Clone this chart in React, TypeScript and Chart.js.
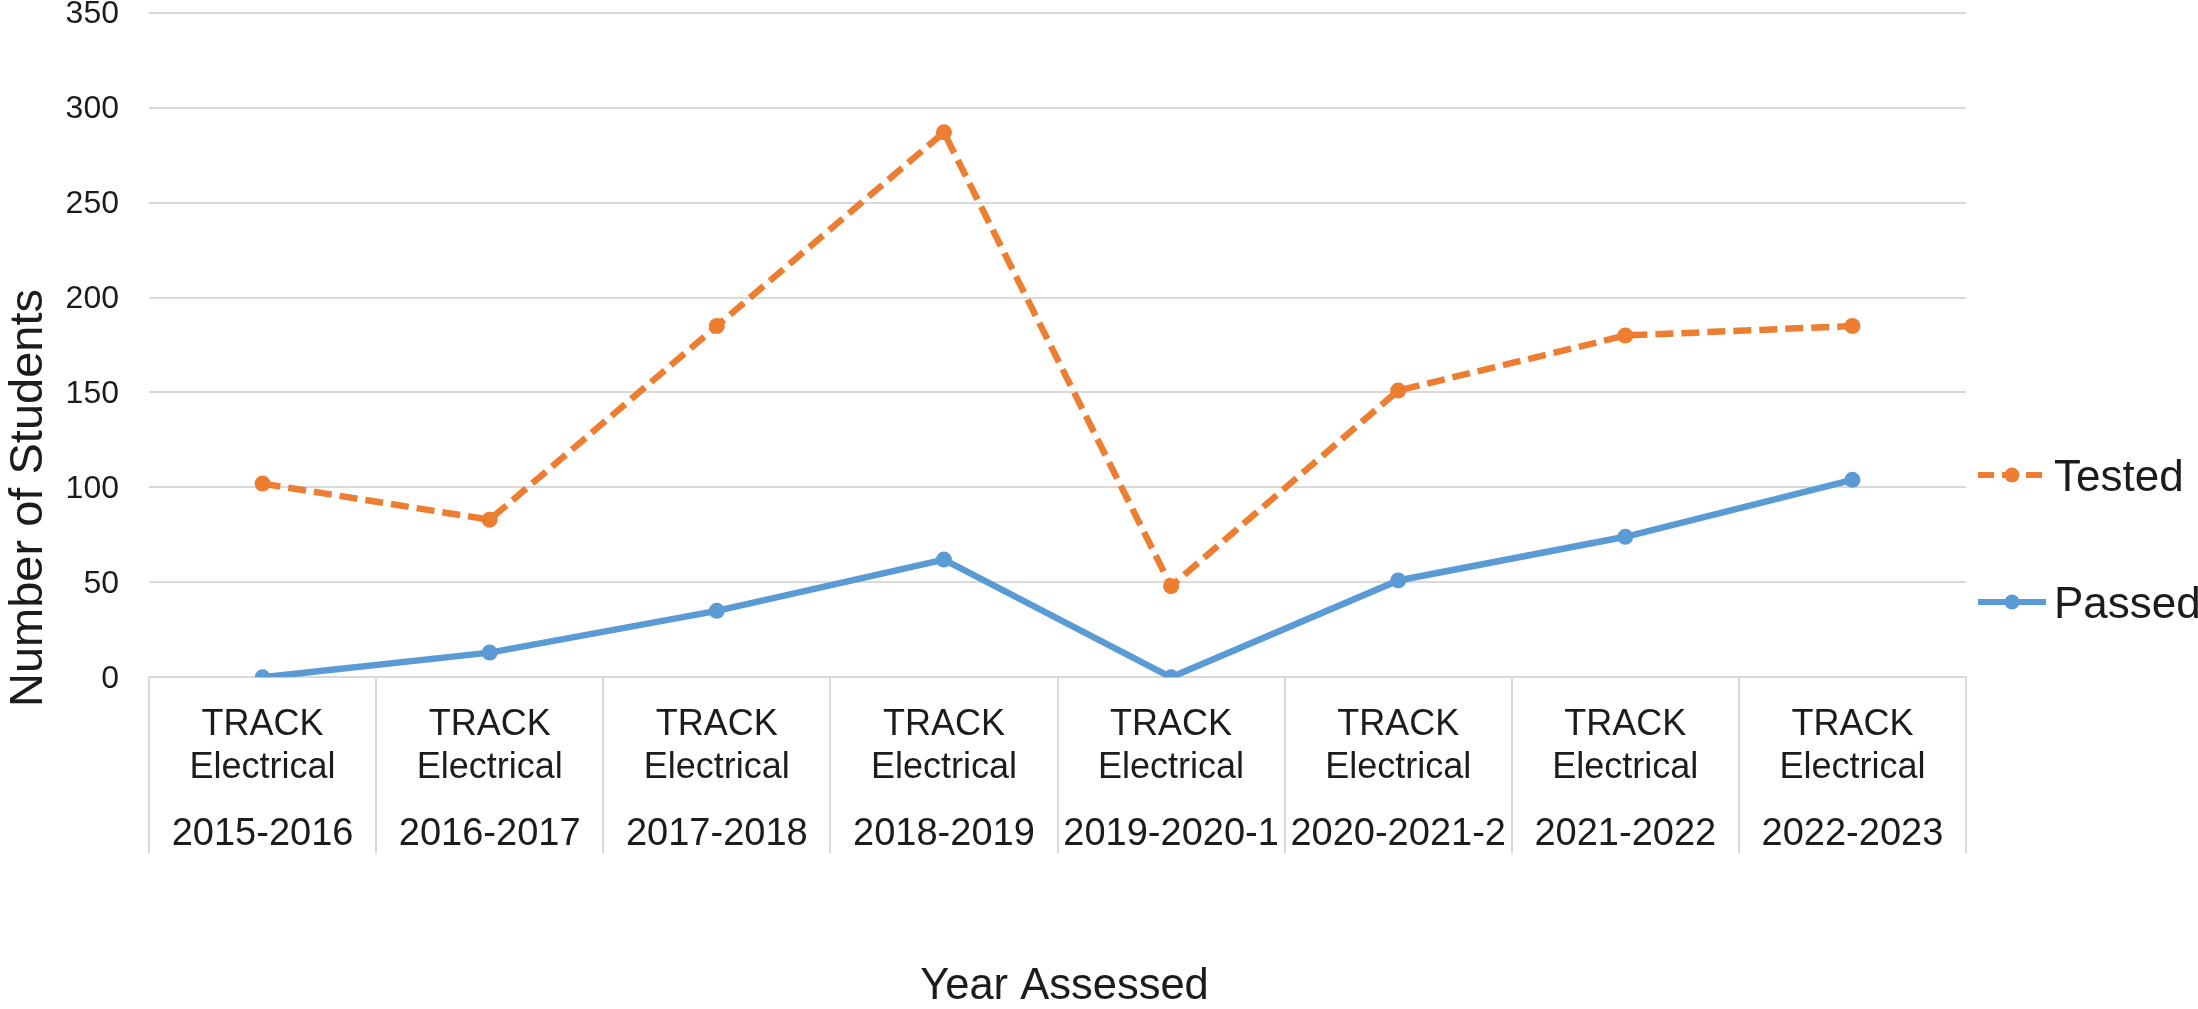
import React, { useEffect, useRef } from "react";
import { Chart, registerables } from "chart.js";

Chart.register(...registerables);

const years = [
  "2015-2016",
  "2016-2017",
  "2017-2018",
  "2018-2019",
  "2019-2020-1",
  "2020-2021-2",
  "2021-2022",
  "2022-2023",
];
const programs = [
  "TRACK Electrical",
  "TRACK Electrical",
  "TRACK Electrical",
  "TRACK Electrical",
  "TRACK Electrical",
  "TRACK Electrical",
  "TRACK Electrical",
  "TRACK Electrical",
];
const tested = [102, 83, 185, 287, 48, 151, 180, 185];
const passed = [0, 13, 35, 62, 0, 51, 74, 104];
const seriesNames = ["Tested", "Passed"];
const yTitle = "Number of Students";
const xTitle = "Year Assessed";

const W = 2198;
const H = 1009;
const FONT = "'Liberation Sans', Arial, sans-serif";
const TEXT = "#1c1c1c";
const GRID = "#d9d9d9";
const ORANGE = "#ED7D31";
const BLUE = "#5B9BD5";

const decor = {
  id: "excelDecor",
  afterDraw(chart: any) {
    const ctx = chart.ctx;
    const xs = chart.scales.x;
    ctx.save();
    ctx.fillStyle = TEXT;
    ctx.textAlign = "center";
    ctx.textBaseline = "alphabetic";
    // multi-level category labels
    for (let i = 0; i < years.length; i++) {
      const x = xs.getPixelForValue(i);
      const words = programs[i].split(" ");
      ctx.font = `36px ${FONT}`;
      ctx.fillText(words[0], x, 735);
      ctx.fillText(words.slice(1).join(" "), x, 778);
      ctx.font = `38px ${FONT}`;
      ctx.fillText(years[i], x, 845);
    }
    // x title
    ctx.font = `43.5px ${FONT}`;
    ctx.fillText(xTitle, (chart.chartArea.left + chart.chartArea.right) / 2 + 7, 999);
    // y title
    ctx.save();
    ctx.translate(42, 498);
    ctx.rotate(-Math.PI / 2);
    ctx.font = `47px ${FONT}`;
    ctx.fillText(yTitle, 0, 0);
    ctx.restore();
    // legend
    const items = [
      { name: seriesNames[0], color: ORANGE, dash: [16, 8], y: 475 },
      { name: seriesNames[1], color: BLUE, dash: [], y: 602 },
    ];
    for (const it of items) {
      ctx.save();
      ctx.strokeStyle = it.color;
      ctx.lineWidth = 6;
      ctx.lineCap = "butt";
      ctx.setLineDash(it.dash);
      ctx.beginPath();
      ctx.moveTo(1978, it.y);
      ctx.lineTo(2046, it.y);
      ctx.stroke();
      ctx.setLineDash([]);
      ctx.fillStyle = it.color;
      ctx.beginPath();
      ctx.arc(2012, it.y, 7.5, 0, Math.PI * 2);
      ctx.fill();
      ctx.restore();
      ctx.font = `44px ${FONT}`;
      ctx.textAlign = "left";
      ctx.fillStyle = TEXT;
      ctx.fillText(it.name, 2054, it.y + 16);
    }
    ctx.restore();
  },
};

export default function App() {
  const ref = useRef<HTMLCanvasElement | null>(null);
  useEffect(() => {
    if (!ref.current) return;
    const chart = new Chart(ref.current, {
      type: "line",
      data: {
        labels: years,
        datasets: [
          {
            label: seriesNames[0],
            data: tested,
            borderColor: ORANGE,
            backgroundColor: ORANGE,
            borderWidth: 6.5,
            borderDash: [18, 8],
            borderCapStyle: "butt",
            pointRadius: 8,
            pointBorderWidth: 0,
            pointBackgroundColor: ORANGE,
            tension: 0,
          },
          {
            label: seriesNames[1],
            data: passed,
            borderColor: BLUE,
            backgroundColor: BLUE,
            borderWidth: 6.5,
            pointRadius: 8,
            pointBorderWidth: 0,
            pointBackgroundColor: BLUE,
            tension: 0,
          },
        ],
      },
      options: {
        responsive: false,
        animation: false,
        devicePixelRatio: 1,
        layout: { padding: { top: 12.7, right: W - 1966, bottom: 0, left: 0 } },
        plugins: {
          legend: { display: false },
          tooltip: { enabled: false },
        },
        scales: {
          x: {
            type: "category",
            offset: true,
            grid: {
              display: true,
              offset: true,
              drawOnChartArea: false,
              drawTicks: true,
              tickLength: 176,
              color: GRID,
              lineWidth: 2,
            },
            border: { display: true, color: GRID, width: 2 },
            ticks: { display: false },
            afterFit: (s: any) => {
              s.height = H - 677.3;
              s.paddingLeft = 0;
              s.paddingRight = 0;
            },
          },
          y: {
            min: 0,
            max: 350,
            ticks: {
              stepSize: 50,
              padding: 30,
              labelOffset: 1.5,
              color: TEXT,
              font: { family: FONT, size: 32 },
            },
            grid: { color: GRID, lineWidth: 2, drawTicks: false },
            border: { display: false },
            afterFit: (s: any) => {
              s.width = 149;
              s.paddingTop = 0;
              s.paddingBottom = 0;
            },
          },
        },
      },
      plugins: [decor],
    });
    return () => chart.destroy();
  }, []);
  return (
    <div style={{ position: "absolute", left: 0, top: 0, width: W, height: H, background: "#fff" }}>
      <canvas ref={ref} width={W} height={H} style={{ display: "block", width: W, height: H }} />
    </div>
  );
}
